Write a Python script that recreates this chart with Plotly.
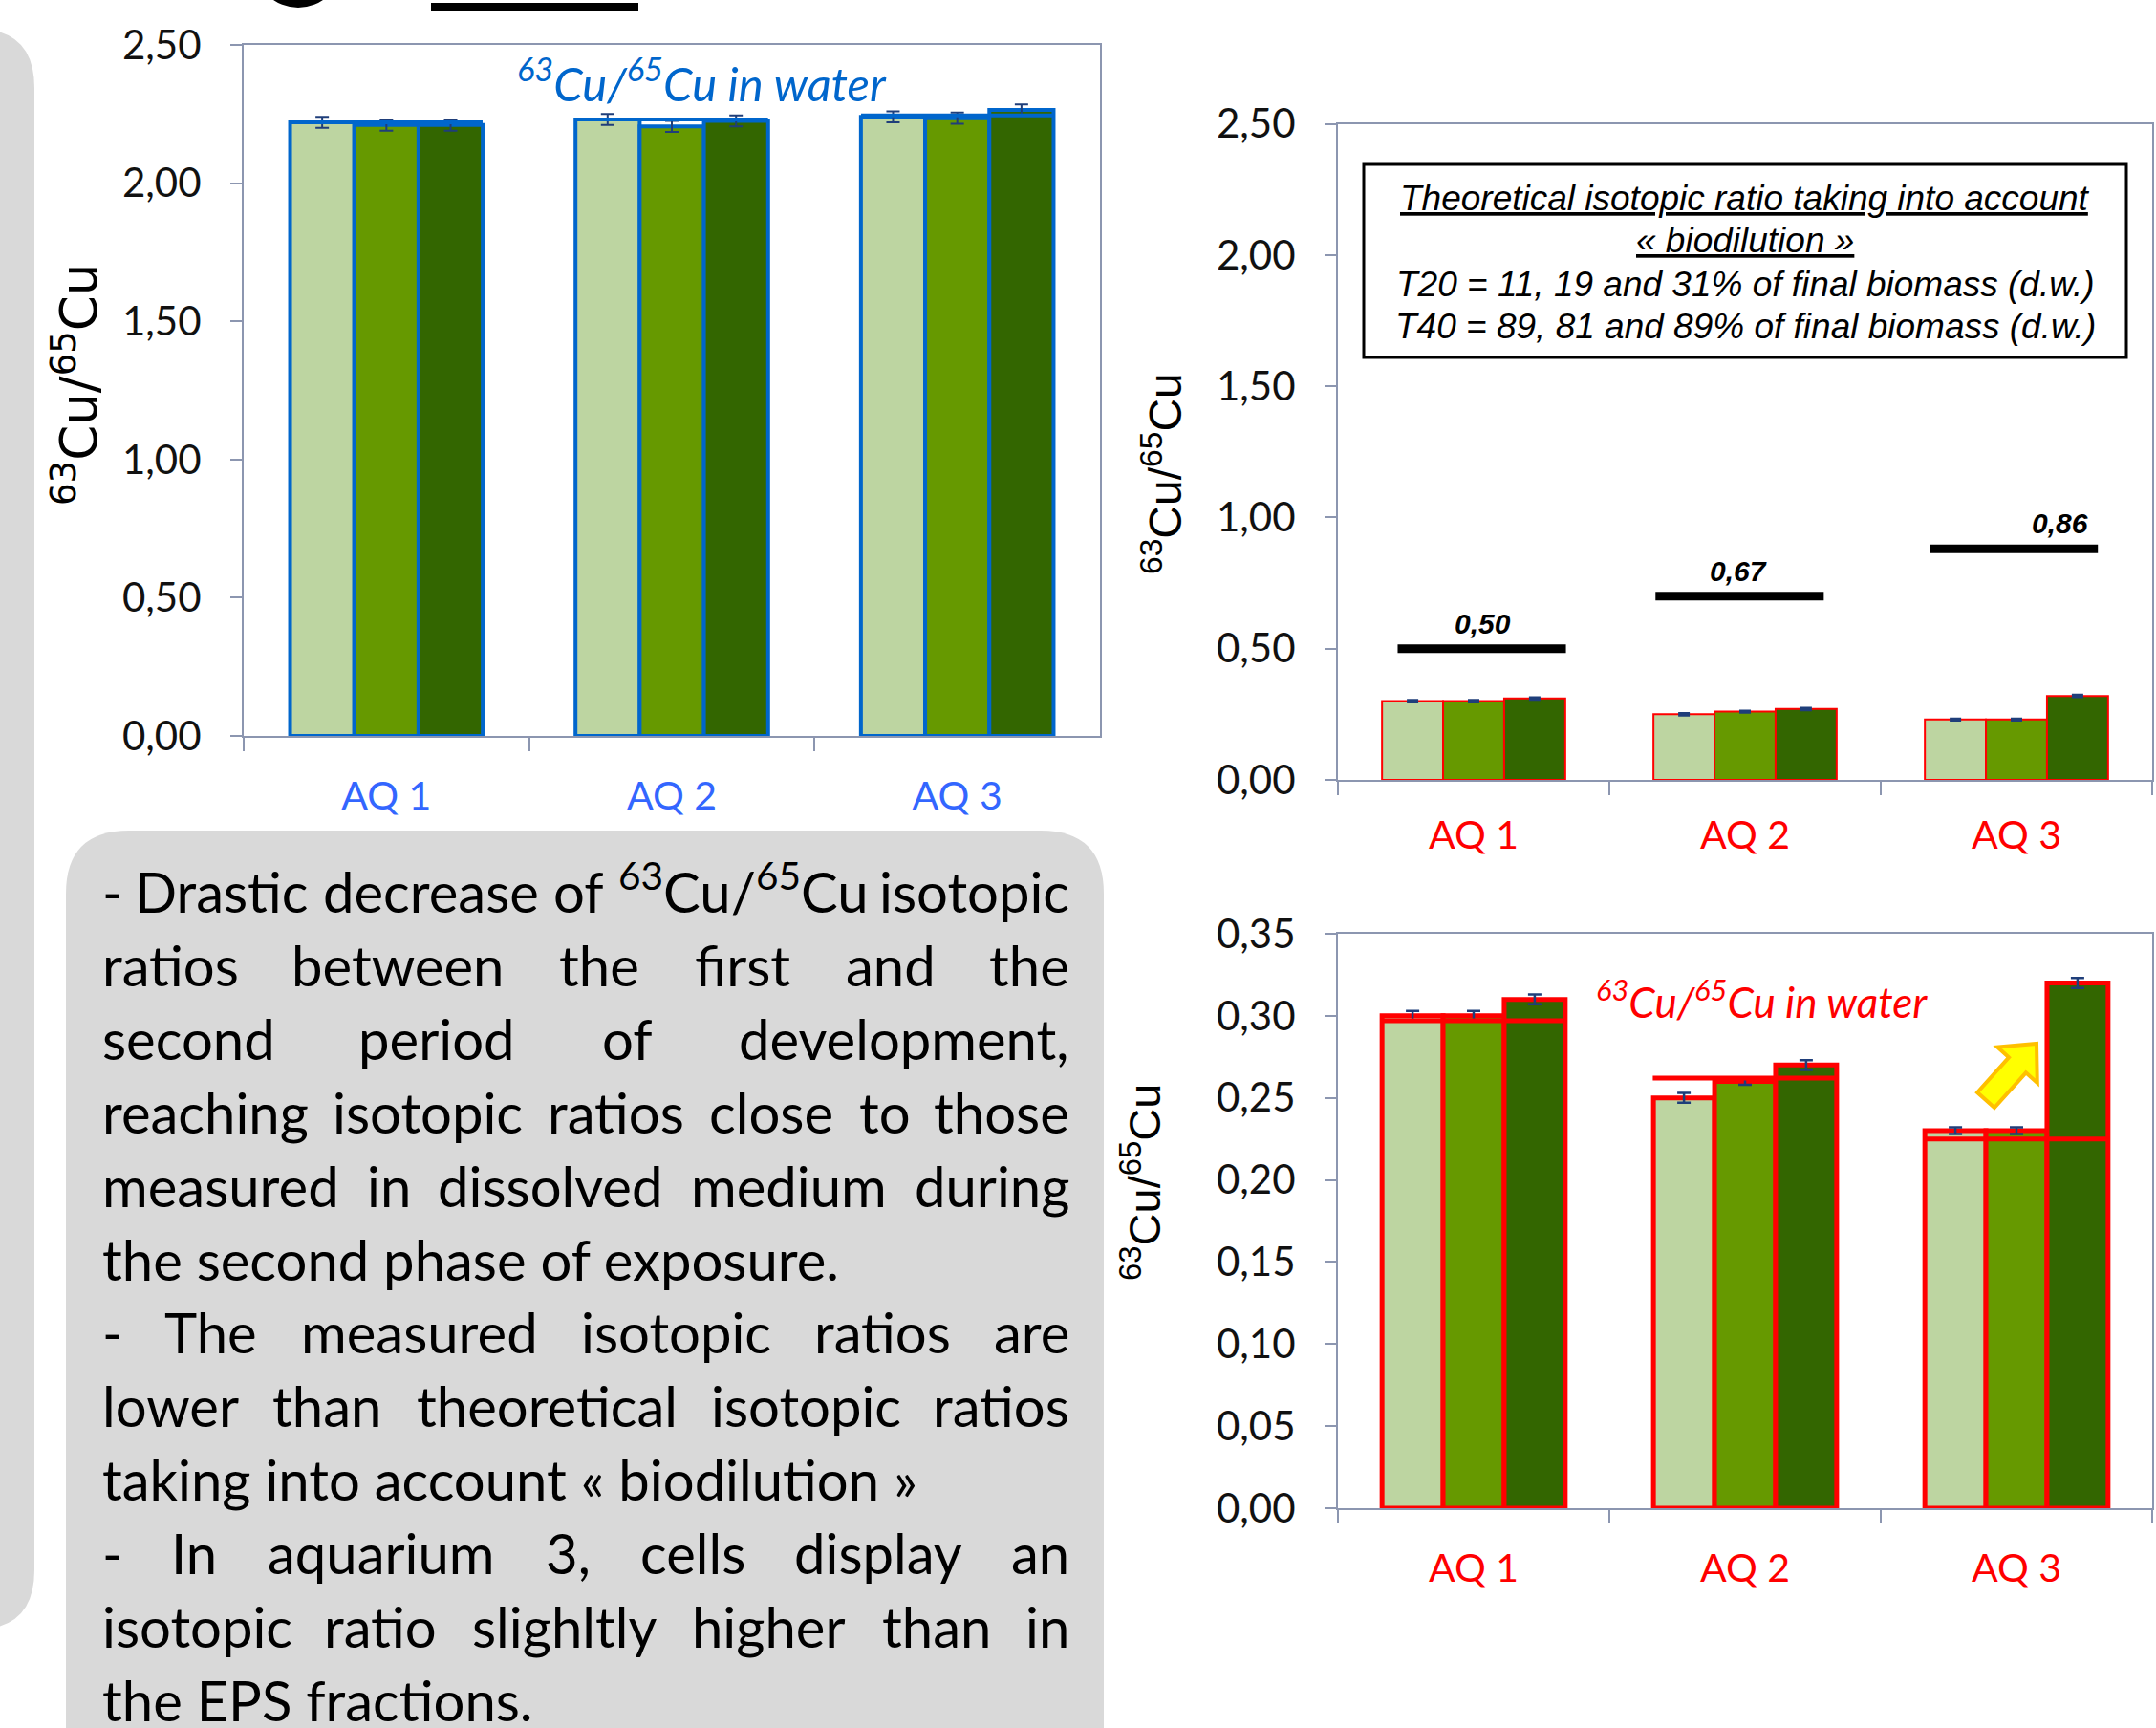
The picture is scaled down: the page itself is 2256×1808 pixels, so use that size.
import re
import plotly.graph_objects as go

# ---------------- data ----------------
CATS = ["AQ 1", "AQ 2", "AQ 3"]
SERIES = ["EPS fraction 1", "EPS fraction 2", "Cells"]

# first period (top-left chart)
T1_EPS1 = [2.22, 2.23, 2.24]
T1_EPS2 = [2.21, 2.205, 2.235]
T1_CELLS = [2.21, 2.225, 2.265]
T1_ERR_EPS1 = [0.02, 0.02, 0.02]
T1_ERR_EPS2 = [0.02, 0.02, 0.02]
T1_ERR_CELLS = [0.02, 0.02, 0.02]
T1_WATER = [2.22, 2.23, 2.245]

# second period (top-right and bottom-right charts)
T2_EPS1 = [0.30, 0.25, 0.23]
T2_EPS2 = [0.30, 0.26, 0.23]
T2_CELLS = [0.31, 0.27, 0.32]
T2_ERR_EPS1 = [0.003, 0.003, 0.002]
T2_ERR_EPS2 = [0.003, 0.002, 0.002]
T2_ERR_CELLS = [0.003, 0.003, 0.003]
T2_WATER = [0.297, 0.262, 0.225]

# theoretical ratios with biodilution
THEO = [0.50, 0.70, 0.88]
THEO_LABELS = ["0,50", "0,67", "0,86"]

TOP_TICKS = [0, 0.5, 1.0, 1.5, 2.0, 2.5]
BOT_TICKS = [0, 0.05, 0.10, 0.15, 0.20, 0.25, 0.30, 0.35]

BOX_LINES = ["Theoretical isotopic ratio taking into account",
             "« biodilution »",
             "T20 = 11, 19 and 31% of final biomass (d.w.)",
             "T40 = 89, 81 and 89% of final biomass (d.w.)"]

BODY = [
    ("- Drastic decrease of <sup>63</sup>Cu/<sup>65</sup>Cu isotopic", True),
    ("ratios between the first and the", True),
    ("second period of development,", True),
    ("reaching isotopic ratios close to those", True),
    ("measured in dissolved medium during", True),
    ("the second phase of exposure.", False),
    ("- The measured isotopic ratios are", True),
    ("lower than theoretical isotopic ratios", True),
    ("taking into account « biodilution »", False),
    ("- In aquarium 3, cells display an", True),
    ("isotopic ratio slighltly higher than in", True),
    ("the EPS fractions.", False),
]

# ---------------- styles ----------------
W, H = 2256, 1808
COLORS = ["#BDD5A1", "#669900", "#336600"]
AXC = "#8C96B0"
ERRC = "#1F3E7A"
CAL = "Lato, Open Sans, sans-serif"
NARROW = "Liberation Sans Narrow, Liberation Sans, Arial Narrow, sans-serif"
ISO = "<sup>63</sup>Cu/<sup>65</sup>Cu"


def px(x):
    return x / W


def py(y):
    return 1 - y / H


fig = go.Figure()

panels = [
    ("x", "y", [T1_EPS1, T1_EPS2, T1_CELLS], [T1_ERR_EPS1, T1_ERR_EPS2, T1_ERR_CELLS], "#0066CC", 4, 2, 7),
    ("x2", "y2", [T2_EPS1, T2_EPS2, T2_CELLS], [T2_ERR_EPS1, T2_ERR_EPS2, T2_ERR_CELLS], "#FF0000", 2, 3, 6),
    ("x3", "y3", [T2_EPS1, T2_EPS2, T2_CELLS], [T2_ERR_EPS1, T2_ERR_EPS2, T2_ERR_CELLS], "#FF0000", 5, 2.5, 7),
]
for xa, ya, vals, errs, lc, lw, et, ew in panels:
    for i in range(3):
        fig.add_trace(go.Bar(
            x=CATS, y=vals[i], name=SERIES[i], xaxis=xa, yaxis=ya,
            marker=dict(color=COLORS[i], line=dict(color=lc, width=lw)),
            error_y=dict(type="data", array=errs[i], color=ERRC, thickness=et, width=ew),
            showlegend=False))


def xaxis(dom, anchor, color, standoff):
    return dict(domain=[px(dom[0]), px(dom[1])], anchor=anchor, type="category",
                tickson="boundaries", ticks="outside", ticklen=14, tickwidth=2, tickcolor=AXC,
                showline=True, linecolor=AXC, linewidth=2, mirror=True, showgrid=False,
                tickfont=dict(family=CAL, size=41, color=color), ticklabelstandoff=standoff,
                range=[-0.5, 2.5], fixedrange=True)


def yaxis(dom, anchor, rng, ticks):
    return dict(domain=[py(dom[1]), py(dom[0])], anchor=anchor, range=rng,
                tickvals=ticks, tickformat=".2f", ticks="outside", ticklen=12, tickwidth=2,
                tickcolor=AXC, showline=True, linecolor=AXC, linewidth=2, mirror=True,
                showgrid=False, zeroline=False, tickfont=dict(family=CAL, size=42, color="#111111"),
                ticklabelstandoff=22)


TL = dict(x=(255, 1151), y=(47, 770))
TR = dict(x=(1400, 2252), y=(129.5, 816))
BR = dict(x=(1400, 2252), y=(977, 1578))

fig.update_layout(
    width=W, height=H, autosize=False, margin=dict(l=0, r=0, t=0, b=0, pad=0, autoexpand=False),
    paper_bgcolor="white", plot_bgcolor="white", separators=",.",
    barmode="group", bargap=0.325, bargroupgap=0, showlegend=False,
    xaxis=xaxis(TL["x"], "y", "#3366FF", 26), yaxis=yaxis(TL["y"], "x", [0, 2.5], TOP_TICKS),
    xaxis2=xaxis(TR["x"], "y2", "#FF0000", 21), yaxis2=yaxis(TR["y"], "x2", [0, 2.5], TOP_TICKS),
    xaxis3=xaxis(BR["x"], "y3", "#FF0000", 26), yaxis3=yaxis(BR["y"], "x3", [0, 0.35], BOT_TICKS),
)

shapes = []
ann = []


def rrect(x0, y0, x1, y1, r):
    pts = [("M", x0 + r, y0), ("L", x1 - r, y0), ("Q", x1, y0, x1, y0 + r), ("L", x1, y1 - r),
           ("Q", x1, y1, x1 - r, y1), ("L", x0 + r, y1), ("Q", x0, y1, x0, y1 - r),
           ("L", x0, y0 + r), ("Q", x0, y0, x0 + r, y0)]
    s = ""
    for p in pts:
        cmd = p[0]
        coords = p[1:]
        c = []
        for k in range(0, len(coords), 2):
            c.append("%.5f,%.5f" % (px(coords[k]), py(coords[k + 1])))
        s += cmd + " " + " ".join(c) + " "
    return s + "Z"


# background grey boxes
shapes.append(dict(type="path", xref="paper", yref="paper", path=rrect(-120, 30, 36, 1705, 62),
                   fillcolor="#D9D9D9", line=dict(width=0), layer="below"))
shapes.append(dict(type="path", xref="paper", yref="paper", path=rrect(69, 869, 1155, 1900, 66),
                   fillcolor="#D9D9D9", line=dict(width=0), layer="below"))
# partial decorations at the top edge
shapes.append(dict(type="circle", xref="paper", yref="paper", x0=px(268), x1=px(356), y0=py(8), y1=py(-75),
                   fillcolor="black", line=dict(width=0)))
shapes.append(dict(type="rect", xref="paper", yref="paper", x0=px(451), x1=px(668), y0=py(11), y1=py(3),
                   fillcolor="black", line=dict(width=0)))

# water lines
for i, v in enumerate(T1_WATER):
    shapes.append(dict(type="line", xref="x", yref="y", x0=i - 0.337, x1=i + 0.337, y0=v, y1=v,
                       line=dict(color="#0066CC", width=4)))
for i, v in enumerate(T2_WATER):
    shapes.append(dict(type="line", xref="x3", yref="y3", x0=i - 0.34, x1=i + 0.345, y0=v, y1=v,
                       line=dict(color="#FF0000", width=5)))

# theoretical lines
THEO_L = [-0.28, -0.33, -0.32]
THEO_R = [0.34, 0.29, 0.30]
THEO_TX = [0.035, -0.025, 0.16]
for i, v in enumerate(THEO):
    shapes.append(dict(type="line", xref="x2", yref="y2", x0=i + THEO_L[i], x1=i + THEO_R[i], y0=v, y1=v,
                       line=dict(color="black", width=9)))
    ann.append(dict(xref="x2", yref="y2", x=i + THEO_TX[i], y=v, text="<b><i>" + THEO_LABELS[i] + "</i></b>",
                    showarrow=False, xanchor="center", yanchor="bottom", yshift=8,
                    font=dict(family=NARROW, size=30, color="black")))

# text box in top-right chart
shapes.append(dict(type="rect", xref="paper", yref="paper", x0=px(1427), x1=px(2225), y0=py(374), y1=py(172),
                   fillcolor="white", line=dict(color="black", width=3)))
BOX_Y = [207, 252, 297, 341]
for k, t in enumerate(BOX_LINES):
    f = dict(family=NARROW, size=37, color="black", style="italic")
    if k < 2:
        f["lineposition"] = "under"
    ann.append(dict(xref="paper", yref="paper", x=px(1826), y=py(BOX_Y[k]), text=t, showarrow=False,
                    xanchor="center", yanchor="middle", font=f))

# yellow arrow
tail = (2078, 1151)
tip = (2131, 1092)
dx, dy = tip[0] - tail[0], tip[1] - tail[1]
L = (dx * dx + dy * dy) ** 0.5
ux, uy = dx / L, dy / L
nx, ny = -uy, ux
hw, hh, hl = 12, 28, 30
bx, by = tip[0] - ux * hl, tip[1] - uy * hl
poly = [(tail[0] + nx * hw, tail[1] + ny * hw), (bx + nx * hw, by + ny * hw), (bx + nx * hh, by + ny * hh),
        tip, (bx - nx * hh, by - ny * hh), (bx - nx * hw, by - ny * hw), (tail[0] - nx * hw, tail[1] - ny * hw)]
path = "M " + " L ".join("%.5f,%.5f" % (px(a), py(b)) for a, b in poly) + " Z"
shapes.append(dict(type="path", xref="paper", yref="paper", path=path, fillcolor="#FFFF00",
                   line=dict(color="#FFC000", width=4)))


# titles / axis titles
def pann(x, y, text, font, angle=0):
    ann.append(dict(xref="paper", yref="paper", x=px(x), y=py(y), text=text, showarrow=False,
                    xanchor="center", yanchor="middle", textangle=angle, font=font))


pann(734, 83, "<i>" + ISO + " in water</i>", dict(family=CAL, size=49, color="#0066CC"))
pann(1843, 1045, "<i>" + ISO + " in water</i>", dict(family=CAL, size=44, color="#FF0000"))
pann(79, 403, ISO, dict(family="DejaVu Sans, sans-serif", size=53, color="black"), -90)
pann(1216, 496, ISO, dict(family="Liberation Sans, Arial, sans-serif", size=48, color="black"), -90)
pann(1194, 1237, ISO, dict(family="Liberation Sans, Arial, sans-serif", size=47, color="black"), -90)

# body text (justified by word placement)
LW = {' ': .19, 'a': .50, 'b': .56, 'c': .46, 'd': .56, 'e': .52, 'f': .33, 'g': .51, 'h': .56, 'i': .24,
      'j': .24, 'k': .51, 'l': .24, 'm': .85, 'n': .56, 'o': .56, 'p': .55, 'q': .56, 'r': .37, 's': .42,
      't': .36, 'u': .56, 'v': .52, 'w': .78, 'x': .51, 'y': .52, 'z': .45, 'A': .68, 'C': .67, 'D': .74,
      'E': .56, 'I': .28, 'P': .59, 'S': .52, 'T': .58, ',': .22, '.': .22, '-': .36, '/': .39, '«': .46,
      '»': .46, '3': .58, '6': .58, '5': .58}
BSIZE = 58


def tw(s):
    tot = 0.0
    for p in re.split(r"(<sup>.*?</sup>)", s):
        if p.startswith("<sup>"):
            tot += sum(LW.get(c, .55) for c in p[5:-6]) * 0.7
        else:
            tot += sum(LW.get(c, .55) for c in p)
    return tot * BSIZE


XL, XR = 105, 1121
for li, (line, just) in enumerate(BODY):
    yb = 931 + li * 76.9 + 38
    bf = dict(family=CAL, size=BSIZE, color="black")
    if not just:
        ann.append(dict(xref="paper", yref="paper", x=px(XL), y=py(yb), text=line, showarrow=False,
                        xanchor="left", yanchor="bottom", font=bf))
        continue
    words = line.split(" ")
    ws = [tw(w) for w in words]
    gap = (XR - XL - sum(ws)) / (len(words) - 1)
    cur = XL
    for k, (w, wd) in enumerate(zip(words, ws)):
        if k == 0:
            x, xa = XL, "left"
        elif k == len(words) - 1:
            x, xa = XR, "right"
        else:
            x, xa = cur + wd / 2, "center"
        ann.append(dict(xref="paper", yref="paper", x=px(x), y=py(yb), text=w, showarrow=False,
                        xanchor=xa, yanchor="bottom", font=bf))
        cur += wd + gap

fig.update_layout(shapes=shapes, annotations=ann)
fig.write_html("out.html", config={"displayModeBar": False},
               post_script="document.body.style.margin='0px';document.body.style.overflow='hidden';")
